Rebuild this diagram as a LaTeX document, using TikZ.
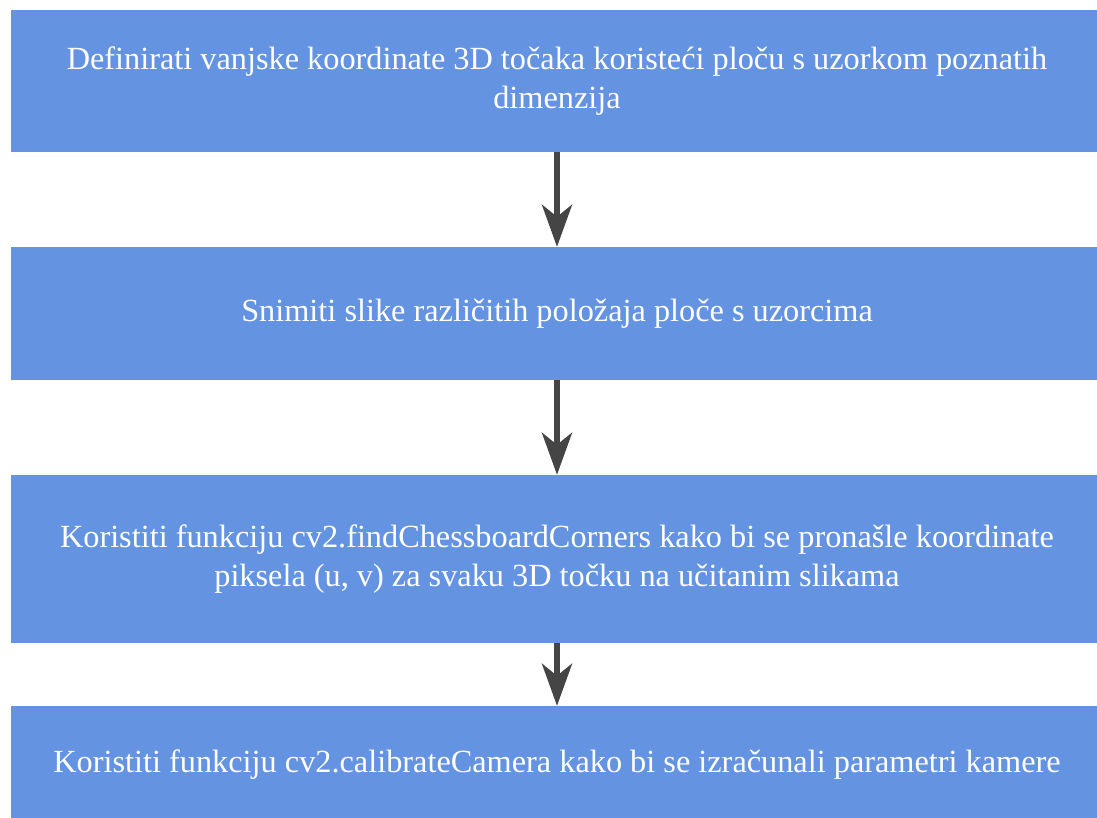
\documentclass[tikz,border=0pt]{standalone}
\usepackage{fontspec}
\setmainfont{Liberation Serif}
\usetikzlibrary{positioning,arrows.meta}
\definecolor{boxblue}{HTML}{6493E2}
\definecolor{arrowgray}{HTML}{454545}

\begin{document}
\begin{tikzpicture}[x=1pt,y=-1pt]
        \tikzset{
            stage/.style={fill=boxblue, minimum width=1092pt, align=center, text=white, font=\fontsize{32.3}{39}\selectfont},
            flow/.style={arrowgray, line width=6pt, -{Stealth[length=42pt,width=30pt,inset=12pt]}}
        }
        \useasboundingbox (0,0) rectangle (1097,818);
        \clip (0,0) rectangle (1097,818);
        \node[stage, minimum height=142pt] (S1) at (557,81) {Definirati vanjske koordinate 3D točaka koristeći ploču s uzorkom poznatih\\dimenzija};
        \node[stage, minimum height=133pt] (S2) at (557,313.5) {Snimiti slike različitih položaja ploče s uzorcima};
        \node[stage, minimum height=168pt] (S3) at (557,559) {Koristiti funkciju cv2.findChessboardCorners kako bi se pronašle koordinate\\piksela (u, v) za svaku 3D točku na učitanim slikama};
        \node[stage, minimum height=118pt] (S4) at (557,765) {Koristiti funkciju cv2.calibrateCamera kako bi se izračunali parametri kamere};
        \draw[flow] (S1.south) -- (S2.north);
        \draw[flow] (S2.south) -- (S3.north);
        \draw[flow] (S3.south) -- (S4.north);
    \end{tikzpicture}
\end{document}
